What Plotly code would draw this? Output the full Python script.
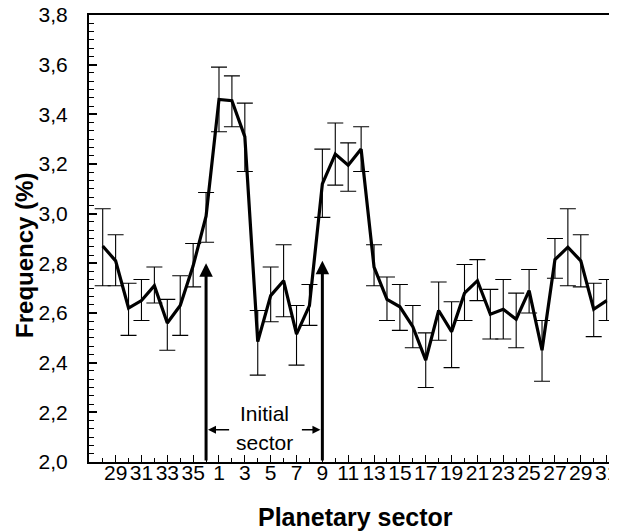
import plotly.graph_objects as go

# Planetary sector labels (wrapped sequence 28..36, 1..31)
sectors = [28, 29, 30, 31, 32, 33, 34, 35, 36] + list(range(1, 32))
freq = [2.87, 2.81, 2.62, 2.65, 2.71, 2.56, 2.63, 2.79, 2.99,
        3.46, 3.455, 3.31, 2.485, 2.67, 2.73, 2.515, 2.63, 3.12,
        3.24, 3.195, 3.26, 2.785, 2.655, 2.625, 2.545, 2.41, 2.61,
        2.525, 2.68, 2.73, 2.595, 2.615, 2.575, 2.69, 2.45, 2.815,
        2.865, 2.81, 2.615, 2.65]
upper = [3.02, 2.915, 2.72, 2.735, 2.785, 2.655, 2.75, 2.88, 3.085,
         3.59, 3.555, 3.445, 2.61, 2.785, 2.875, 2.63, 2.715, 3.26,
         3.365, 3.285, 3.35, 2.875, 2.745, 2.715, 2.63, 2.52, 2.725,
         2.645, 2.795, 2.815, 2.695, 2.735, 2.68, 2.775, 2.57, 2.90,
         3.02, 2.915, 2.72, 2.735]
lower = [2.71, 2.71, 2.51, 2.57, 2.64, 2.45, 2.51, 2.705, 2.885,
         3.33, 3.35, 3.17, 2.35, 2.565, 2.585, 2.39, 2.55, 2.985,
         3.115, 3.09, 3.17, 2.71, 2.57, 2.53, 2.46, 2.30, 2.49,
         2.38, 2.57, 2.65, 2.495, 2.495, 2.46, 2.60, 2.325, 2.74,
         2.71, 2.705, 2.505, 2.57]

y_ticks = [2.0, 2.2, 2.4, 2.6, 2.8, 3.0, 3.2, 3.4, 3.6, 3.8]

# initial-sector boundary markers (sector 36 and sector 9)
arrow_idx = [8, 17]
arrow_tip = [2.80, 2.81]

x = list(range(len(sectors)))
err_plus = [u - v for u, v in zip(upper, freq)]
err_minus = [v - l for v, l in zip(freq, lower)]

tick_idx = [i for i, s in enumerate(sectors) if s % 2 == 1]
tick_txt = [str(sectors[i]) for i in tick_idx]

FONT = "Liberation Sans, Arial, sans-serif"

fig = go.Figure()
fig.add_trace(go.Scatter(
    x=x, y=freq, mode="lines",
    line=dict(color="black", width=3.2),
    error_y=dict(type="data", symmetric=False, array=err_plus,
                 arrayminus=err_minus, color="black", thickness=1.1, width=8),
    showlegend=False,
))

# vertical arrows
for xi, tip in zip(arrow_idx, arrow_tip):
    fig.add_annotation(x=xi, y=tip, ax=xi, ay=2.0, xref="x", yref="y",
                       axref="x", ayref="y", text="", showarrow=True,
                       arrowhead=2, arrowsize=0.9, arrowwidth=3,
                       arrowcolor="black", standoff=0)

# horizontal arrows
fig.add_annotation(x=arrow_idx[0] + 0.15, y=2.13, ax=9.9, ay=2.13, xref="x", yref="y",
                   axref="x", ayref="y", text="", showarrow=True,
                   arrowhead=2, arrowsize=1.0, arrowwidth=1.6, arrowcolor="black")
fig.add_annotation(x=arrow_idx[1] - 0.15, y=2.13, ax=15.3, ay=2.13, xref="x", yref="y",
                   axref="x", ayref="y", text="", showarrow=True,
                   arrowhead=2, arrowsize=1.0, arrowwidth=1.6, arrowcolor="black")

fig.add_annotation(x=12.55, y=2.197, xref="x", yref="y", text="Initial",
                   showarrow=False, font=dict(family=FONT, size=21, color="black"))
fig.add_annotation(x=12.5, y=2.078, xref="x", yref="y", text="sector",
                   showarrow=False, font=dict(family=FONT, size=21, color="black"))

# axis titles
fig.add_annotation(x=0.507, y=-0.123, xref="paper", yref="paper",
                   text="<b>Planetary sector</b>", showarrow=False,
                   xanchor="center", yanchor="middle",
                   font=dict(family=FONT, size=25, color="black"))
fig.add_annotation(x=-0.124, y=0.463, xref="paper", yref="paper",
                   text="<b>Frequency (%)</b>", showarrow=False, textangle=-90,
                   xanchor="center", yanchor="middle",
                   font=dict(family=FONT, size=24, color="black"))

fig.update_layout(
    width=609, height=524,
    margin=dict(l=81, r=3, t=7, b=70),
    paper_bgcolor="white", plot_bgcolor="white",
    separators=",.",
    font=dict(family=FONT, color="black"),
    xaxis=dict(
        range=[-1.06, 39.57], automargin=False,
        tickmode="array", tickvals=tick_idx, ticktext=tick_txt, tickangle=0,
        ticks="inside", ticklen=7, tickwidth=1.2, tickcolor="black",
        minor=dict(dtick=1, tick0=0, ticks="inside", ticklen=4, tickwidth=1.2, tickcolor="black"),
        showline=True, linecolor="black", linewidth=2, mirror=True,
        showgrid=False, zeroline=False,
        ticklabelstandoff=-9, ticklabeloverflow="allow",
        tickfont=dict(family=FONT, size=21, color="black"),
    ),
    yaxis=dict(
        range=[2.0, 3.8], tickmode="array", tickvals=y_ticks,
        tickformat=".1f", automargin=False,
        ticks="inside", ticklen=8, tickwidth=1.5, tickcolor="black",
        minor=dict(dtick=0.2 / 6, tick0=2.0, ticks="inside", ticklen=5, tickwidth=1.2, tickcolor="black"),
        showline=True, linecolor="black", linewidth=2,
        showgrid=False, zeroline=False,
        ticklabelstandoff=15, ticklabeloverflow="allow",
        tickfont=dict(family=FONT, size=21, color="black"),
    ),
)

fig.write_html("out.html")
